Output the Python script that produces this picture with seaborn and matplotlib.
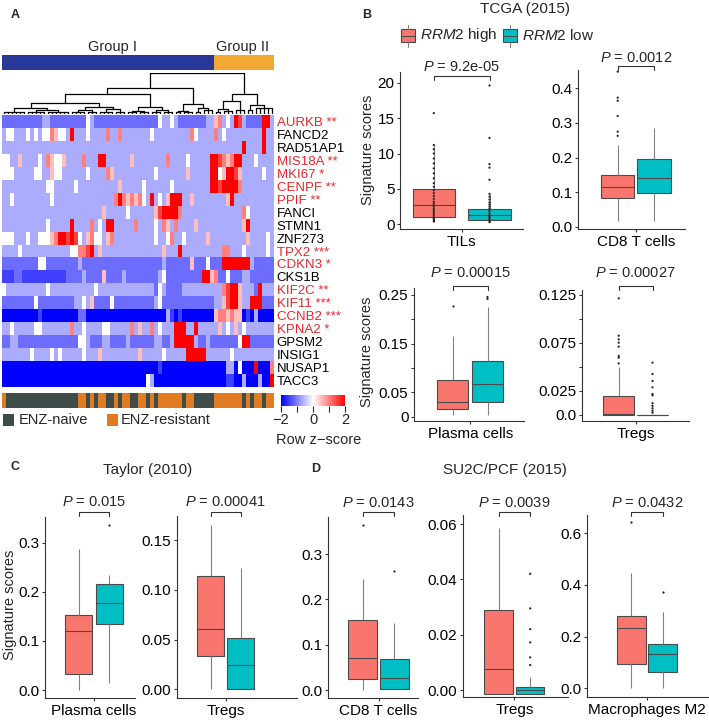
import numpy as np
import pandas as pd
import matplotlib
matplotlib.use('Agg')
import matplotlib.pyplot as plt
import seaborn as sns
from matplotlib.colors import LinearSegmentedColormap, ListedColormap
from matplotlib.patches import Rectangle
from matplotlib.lines import Line2D

### Panel A data
genes = ['AURKB', 'FANCD2', 'RAD51AP1', 'MIS18A', 'MKI67', 'CENPF', 'PPIF', 'FANCI',
         'STMN1', 'ZNF273', 'TPX2', 'CDKN3', 'CKS1B', 'KIF2C', 'KIF11', 'CCNB2',
         'KPNA2', 'GPSM2', 'INSIG1', 'NUSAP1', 'TACC3']
stars = ['**', '', '', '**', '*', '**', '**', '', '', '', '***', '*', '', '**', '***',
         '***', '*', '', '', '', '']

# row z-score per sample, coded by level (see z_levels)
z_levels = {'0': -2.0, '1': -1.5, '2': -1.15, '3': -0.65, '4': 0.0,
            '5': 0.5, '6': 1.0, '7': 1.5, '8': 2.0}
zscore_rows = [
    "22222222223322222 22224322222222222 22222433432222222 33563438732222883",  # AURKB
    "34433343434465443 83334333363363333 33343333333336433 33634333333333833",  # FANCD2
    "33333333333333333 33333333333333333 33333333333333333 33333333383333833",  # RAD51AP1
    "44335333343654453 33363338833333353 33333336333343333 38876568833343333",  # MIS18A
    "44433333443354433 33334333365333333 33334333333353333 38845887533333433",  # MKI67
    "33333333333443333 34333333333353333 34333333433333333 38878888633333333",  # CENPF
    "33433333333343333 33333333333686565 64383435888335333 33333583333333333",  # PPIF
    "33333333333333333 33333333533333433 33335788886333333 33333333364333333",  # FANCI
    "33333333333433333 83333634388333336 33334365363333533 33333333358333333",  # STMN1
    "44433343344456887 87435644356333333 33334334633433333 53333333335333343",  # ZNF273
    "33334333333333333 44667835333333333 33333353338333333 33336633343333343",  # TPX2
    "22222222244222222 22322222222222222 22222232222225222 42228888888322222",  # CDKN3
    "11122111111111112 22232222522223222 22222342222222228 85622422233222222",  # CKS1B
    "43333333333433333 33333343333333333 33332432222333333 33336788533328333",  # KIF2C
    "22222222422222222 23343522224222222 22223422222222222 22335788533888222",  # KIF11
    "00000000010000000 00220000000000000 00000003101000000 00566565501030000",  # CCNB2
    "33433333443333333 63343333443333363 53363433388833833 33353435343333333",  # KPNA2
    "22332222222222222 22443222332222322 22223322388888322 32222222488222222",  # GPSM2
    "33333334333343433 33343335333333333 53333343333388888 33333343333333333",  # INSIG1
    "00000000000000000 00000000000000000 00000100000000000 00000330400080006",  # NUSAP1
    "00000000000000000 00000000000000000 00430000000000000 00000110030003008",  # TACC3
]
group_row = "11111111111111111 11111111111111111 11111111111111111 11222222222222222"
enz_row = "RNNNNNNNNNNNNNNNN NNRRNRNRRNNRNRRNN RRNRNRRRRRRNRRNNN NNRRRRRRRNRNRRNRR"

# dendrogram: (merge height, children); an int child = that many leaves joined at that height
tree = (1.0, [
    (0.63, [
        (0.49, [
            (0.27, [
                (0.14, [(0.04, 6), (0.10, [(0.05, 5), (0.06, 6)])]),
                (0.18, [(0.09, [(0.04, 4), (0.05, 3)]), (0.12, [(0.05, 4), (0.04, 3)])]),
            ]),
            (0.16, [(0.08, [(0.04, 3), (0.05, 3)]), (0.10, [(0.04, 3), (0.06, 3)])]),
        ]),
        (0.25, [(0.08, [(0.04, 2), (0.05, 3)]), (0.15, [(0.06, 2), (0.10, 3)])]),
    ]),
    (0.5, [
        (0.32, [(0.12, [(0.05, 2), (0.08, 3)]), (0.10, 3)]),
        (0.23, [(0.10, 2), (0.15, 5)]),
    ]),
])

### Box plot data: [low whisker, Q1, median, Q3, high whisker] and points
tils_high_box = [0.3, 1.0, 2.7, 4.95, 11.2]
tils_low_box = [0.3, 0.57, 1.37, 2.2, 4.3]
tils_high_pts = [0.4, 0.6, 0.8, 1.0, 1.3, 1.6, 1.9, 2.2, 2.5, 2.9, 3.2, 3.6, 4.0, 4.4,
                 4.8, 5.3, 5.8, 6.5, 7.2, 7.9, 8.6, 9.3, 10.0, 10.6, 11.2, 15.7]
tils_low_pts = [0.3, 0.5, 0.7, 0.9, 1.1, 1.3, 1.6, 1.9, 2.2, 2.5, 2.8, 3.1, 3.5, 3.9,
                4.3, 6.3, 8.0, 8.5, 12.2, 19.6]

cd8_tcga_high_box = [0.018, 0.084, 0.116, 0.15, 0.236]
cd8_tcga_low_box = [0.018, 0.099, 0.142, 0.195, 0.286]
cd8_tcga_high_pts = [0.263, 0.275, 0.32, 0.364, 0.373, 0.448]
cd8_tcga_low_pts = []

plasma_tcga_high_box = [0.004, 0.015, 0.031, 0.076, 0.165]
plasma_tcga_low_box = [0.004, 0.031, 0.067, 0.115, 0.226]
plasma_tcga_high_pts = [0.228]
plasma_tcga_low_pts = [0.242, 0.246]

tregs_tcga_high_box = [0.0, 0.0, 0.001, 0.0201, 0.0503]
tregs_tcga_low_box = [0.0, 0.0, 0.0, 0.0, 0.0015]
tregs_tcga_high_pts = [0.0538, 0.0597, 0.0615, 0.0712, 0.0753, 0.0788, 0.0826, 0.1215]
tregs_tcga_low_pts = [0.0024, 0.0045, 0.007, 0.0095, 0.0122, 0.0205, 0.0219, 0.0288,
                      0.0354, 0.0427, 0.0545]

plasma_taylor_high_box = [0.0, 0.033, 0.12, 0.152, 0.287]
plasma_taylor_low_box = [0.014, 0.134, 0.177, 0.216, 0.235]
plasma_taylor_high_pts = []
plasma_taylor_low_pts = [0.337]

tregs_taylor_high_box = [0.0, 0.033, 0.061, 0.114, 0.165]
tregs_taylor_low_box = [0.0005, 0.0005, 0.0245, 0.052, 0.122]

cd8_su2c_high_box = [0.0, 0.0235, 0.07, 0.155, 0.245]
cd8_su2c_low_box = [0.002, 0.002, 0.027, 0.068, 0.147]
cd8_su2c_high_pts = [0.363]
cd8_su2c_low_pts = [0.262]

tregs_su2c_high_box = [-0.0015, -0.0015, 0.0076, 0.029, 0.0585]
tregs_su2c_low_box = [-0.0015, -0.0015, 0.0, 0.0012, 0.0048]
tregs_su2c_low_pts = [0.009, 0.0118, 0.0172, 0.022, 0.0295, 0.042]

m2_su2c_high_box = [0.0, 0.094, 0.232, 0.28, 0.445]
m2_su2c_low_box = [0.0, 0.062, 0.132, 0.171, 0.296]
m2_su2c_high_pts = [0.645]
m2_su2c_low_pts = [0.374]

### Style
sns.set_style('ticks')
plt.rcParams['font.family'] = ['Liberation Sans', 'DejaVu Sans']
plt.rcParams['mathtext.fontset'] = 'custom'
plt.rcParams['mathtext.rm'] = 'Liberation Sans'
plt.rcParams['mathtext.it'] = 'Liberation Sans:italic'

HIGH_COL, LOW_COL = '#F8766D', '#00BFC4'
W, H = 709, 720
fig = plt.figure(figsize=(W / 100, H / 100), dpi=100)


def add_ax(l, t, r, b):
    return fig.add_axes([l / W, 1 - b / H, (r - l) / W, (b - t) / H])


def ftext(x, y, s, **kw):
    fig.text(x / W, 1 - y / H, s, **kw)


def frect(l, t, r, b, color, ec='none', lw=0.8):
    fig.add_artist(Rectangle((l / W, 1 - b / H), (r - l) / W, (b - t) / H, fc=color, ec=ec,
                             lw=lw, transform=fig.transFigure))


def fline(x0, y0, x1, y1, color='#4a4a4a', lw=0.8):
    fig.add_artist(Line2D([x0 / W, x1 / W], [1 - y0 / H, 1 - y1 / H], color=color, lw=lw,
                          transform=fig.transFigure))


### 01. Panel A heatmap
zmat = np.array([[z_levels[c] for c in r.replace(' ', '')] for r in zscore_rows])
assert zmat.shape == (21, 68), [len(r.replace(' ', '')) for r in zscore_rows]
n_cols = zmat.shape[1]

cmap = LinearSegmentedColormap.from_list('bwr_ph', ['#0000FF', '#FFFFFF', '#FF0000'])
ax_hm = add_ax(2, 115, 274, 387)
cax = add_ax(281, 395, 345, 406)
sns.heatmap(zmat, cmap=cmap, vmin=-2, vmax=2, ax=ax_hm, cbar_ax=cax,
            cbar_kws={'orientation': 'horizontal', 'ticks': [-2, -1, 0, 1, 2]},
            xticklabels=False, yticklabels=[f'{g} {s}'.strip() for g, s in zip(genes, stars)])
ax_hm.yaxis.tick_right()
ax_hm.tick_params(axis='y', length=0, pad=2, labelsize=9.5, labelrotation=0)
for lab, s in zip(ax_hm.get_yticklabels(), stars):
    lab.set_color('#E8262B' if s else 'black')
cb = ax_hm.collections[0].colorbar
cb.outline.set_visible(False)
cax.set_xticklabels(['\u22122', '', '0', '', '2'])
cax.tick_params(length=4, width=0.8, labelsize=10.5, pad=1)
ftext(276, 440, 'Row z\u2212score', fontsize=10.5, va='center')

# group bar
grp = np.array([[int(c) for c in group_row.replace(' ', '')]])
ax_grp = add_ax(2, 55, 274, 70)
sns.heatmap(grp, cmap=ListedColormap(['#27379A', '#F2A833']), vmin=1, vmax=2, cbar=False,
            xticklabels=False, yticklabels=False, ax=ax_grp)
ftext(113, 47, 'Group I', fontsize=10.5, ha='center', va='center')
ftext(243, 47, 'Group II', fontsize=10.5, ha='center', va='center')

# ENZ annotation bar
enz = np.array([[0 if c == 'N' else 1 for c in enz_row.replace(' ', '')]])
ax_enz = add_ax(2, 393, 274, 408)
sns.heatmap(enz, cmap=ListedColormap(['#3D4B49', '#E07B22']), vmin=0, vmax=1, cbar=False,
            xticklabels=False, yticklabels=False, ax=ax_enz)
frect(3, 414, 14, 426, '#3D4B49')
ftext(19, 420, 'ENZ-naive', fontsize=10.5, va='center')
frect(107, 414, 118, 426, '#E07B22')
ftext(121, 420, 'ENZ-resistant', fontsize=10.5, va='center')

# dendrogram
ax_d = add_ax(2, 73, 274, 114)
ax_d.set_xlim(0, n_cols)
ax_d.set_ylim(0, 1.0)
ax_d.axis('off')


def draw_node(node, start):
    h, kids = node
    if isinstance(kids, int):
        xs = [start + i + 0.5 for i in range(kids)]
        for x in xs:
            ax_d.plot([x, x], [0, h], color='black', lw=0.9)
        ax_d.plot([xs[0], xs[-1]], [h, h], color='black', lw=0.9)
        return np.mean(xs), h, start + kids
    centers, tops = [], []
    for k in kids:
        c, kh, start = draw_node(k, start)
        centers.append(c)
        tops.append(kh)
    for c, kh in zip(centers, tops):
        ax_d.plot([c, c], [kh, h], color='black', lw=0.9)
    ax_d.plot([min(centers), max(centers)], [h, h], color='black', lw=0.9)
    return np.mean(centers), h, start


draw_node(tree, 0)


### 02. Box plot panels
def box_panel(cell, hb, lb, hp, lp, box, cal, ticks, labels, centers, bw, p, ptext, pbr,
              ylab=None):
    L, T, R, B = box
    ax = add_ax(L, T, R, B)
    c1, c2 = centers
    gap = 1 - bw / (c2 - c1)
    df = pd.DataFrame({'cell': cell, 'group': ['high'] * len(hb) + ['low'] * len(lb),
                       'score': hb + lb})
    sns.boxplot(data=df, x='cell', y='score', hue='group', hue_order=['high', 'low'],
                palette={'high': HIGH_COL, 'low': LOW_COL}, width=0.8, gap=gap,
                whis=(0, 100), saturation=1, linecolor='#4a4a4a', linewidth=0.8,
                showcaps=False, fliersize=0, whiskerprops={'color': '#808080'},
                legend=False, ax=ax)
    if len(hp) + len(lp):
        pts = pd.DataFrame({'cell': cell, 'group': ['high'] * len(hp) + ['low'] * len(lp),
                            'score': hp + lp})
        sns.stripplot(data=pts, x='cell', y='score', hue='group', hue_order=['high', 'low'],
                      palette={'high': '#222222', 'low': '#222222'}, dodge=True, jitter=False,
                      size=1.6, legend=False, ax=ax)
    v0, y0, v1, y1 = cal
    slope = (y0 - y1) / (v1 - v0)
    ax.set_ylim(v0 - (B - y0) / slope, v0 + (y0 - T) / slope)
    u = (c2 - c1) / 0.4
    m = (c1 + c2) / 2
    ax.set_xlim((L - m) / u, (R - m) / u)
    ax.set_yticks(ticks)
    ax.set_yticklabels(labels)
    ax.set_xlabel('')
    ax.set_ylabel('')
    for s in ['top', 'right']:
        ax.spines[s].set_visible(False)
    for s in ['left', 'bottom']:
        ax.spines[s].set_color('#333333')
        ax.spines[s].set_linewidth(0.8)
    ax.tick_params(length=2.5, width=0.8, color='#333333', labelsize=11, pad=1.5,
                   labelcolor='black')
    tr = ax.get_xaxis_transform()
    yf = lambda y: (B - y) / (B - T)
    ax.plot([-0.2, -0.2, 0.2, 0.2], [yf(pbr + 4), yf(pbr), yf(pbr), yf(pbr + 4)],
            transform=tr, clip_on=False, color='#333333', lw=0.8)
    ax.text(0, yf(ptext), r'$\it{P}$ = ' + p, transform=tr, ha='center', va='center',
            fontsize=10.5)
    if ylab is not None:
        ftext(ylab[0], ylab[1], 'Signature scores', rotation=90, ha='center', va='center',
              fontsize=10.5)
    return ax


# B: TCGA (2015)
box_panel('TILs', tils_high_box, tils_low_box, tils_high_pts, tils_low_pts,
          (400, 72, 523, 229), (0, 224.3, 20, 82.7), [0, 5, 10, 15, 20],
          ['0', '5', '10', '15', '20'], (433.8, 489.5), 42.3, '9.2e-05', 67, 76, (368, 150))
box_panel('CD8 T cells', cd8_tcga_high_box, cd8_tcga_low_box, cd8_tcga_high_pts,
          cd8_tcga_low_pts, (578, 70, 685, 229), (0, 227, 0.4, 88.3),
          [0, 0.1, 0.2, 0.3, 0.4], ['0.0', '0.1', '0.2', '0.3', '0.4'], (617.7, 654), 33.3,
          '0.0012', 58, 66)
box_panel('Plasma cells', plasma_tcga_high_box, plasma_tcga_low_box, plasma_tcga_high_pts,
          plasma_tcga_low_pts, (414, 288, 524, 421), (0, 416.7, 0.25, 295),
          [0, 0.05, 0.1, 0.15, 0.2, 0.25], ['0', '0.05', '', '0.15', '', '0.25'],
          (452.8, 487.5), 31, '0.00015', 273, 286, (367, 352))
box_panel('Tregs', tregs_tcga_high_box, tregs_tcga_low_box, tregs_tcga_high_pts,
          tregs_tcga_low_pts, (582, 290, 689, 421), (0, 415, 0.125, 295),
          [0, 0.025, 0.05, 0.075, 0.1, 0.125], ['0.0', '0.025', '', '0.075', '', '0.125'],
          (618.7, 652.5), 30.7, '0.00027', 273, 286)

# C: Taylor (2010)
box_panel('Plasma cells', plasma_taylor_high_box, plasma_taylor_low_box,
          plasma_taylor_high_pts, plasma_taylor_low_pts, (45, 517, 135, 698),
          (0, 690, 0.3, 542.7), [0, 0.1, 0.2, 0.3], ['0.0', '0.1', '0.2', '0.3'],
          (78.7, 109.2), 27.3, '0.015', 502, 512, (10, 605))
box_panel('Tregs', tregs_taylor_high_box, tregs_taylor_low_box, [], [],
          (177, 516, 297, 698), (0, 689.3, 0.15, 540), [0, 0.05, 0.1, 0.15],
          ['0.00', '0.05', '0.10', '0.15'], (210.7, 240.8), 26.8, '0.00041', 502, 512)

# D: SU2C/PCF (2015)
box_panel('CD8 T cells', cd8_su2c_high_box, cd8_su2c_low_box, cd8_su2c_high_pts,
          cd8_su2c_low_pts, (328, 517, 418, 698), (0, 690, 0.3, 554), [0, 0.1, 0.2, 0.3],
          ['0.0', '0.1', '0.2', '0.3'], (362.8, 394.2), 29, '0.0143', 503, 512)
box_panel('Tregs', tregs_su2c_high_box, tregs_su2c_low_box, [], tregs_su2c_low_pts,
          (463, 515, 568, 697), (0, 690, 0.06, 524), [0, 0.02, 0.04, 0.06],
          ['0.00', '0.02', '0.04', '0.06'], (498.5, 530.2), 28.3, '0.0039', 503, 512)
box_panel('Macrophages M2', m2_su2c_high_box, m2_su2c_low_box, m2_su2c_high_pts,
          m2_su2c_low_pts, (587, 515, 708, 697), (0, 688.3, 0.6, 533.3),
          [0, 0.2, 0.4, 0.6], ['0.0', '0.2', '0.4', '0.6'], (631.2, 662.5), 29, '0.0432',
          503, 512)

### 03. Titles, legend and panel letters
ftext(525, 9, 'TCGA (2015)', fontsize=11, ha='center', va='center')
ftext(148, 470, 'Taylor (2010)', fontsize=11, ha='center', va='center')
ftext(505, 470, 'SU2C/PCF (2015)', fontsize=11, ha='center', va='center')

for l, col, txt in [(400.7, HIGH_COL, r'$\it{RRM2}$ high'), (503, LOW_COL, r'$\it{RRM2}$ low')]:
    frect(l, 29, l + 14.3, 42, col, ec='#4a4a4a')
    fline(l, 35.5, l + 14.3, 35.5)
    fline(l + 7.15, 25, l + 7.15, 29, color='#808080')
    fline(l + 7.15, 42, l + 7.15, 47, color='#808080')
    ftext(l + 19.5, 35.5, txt, fontsize=11, va='center')

for letter, x, y in [('A', 15, 15), ('B', 367, 15), ('C', 15, 467), ('D', 316, 469)]:
    ftext(x, y, letter, fontsize=9, fontweight='bold', ha='center', va='center')

fig.savefig('out.png', dpi=100)
